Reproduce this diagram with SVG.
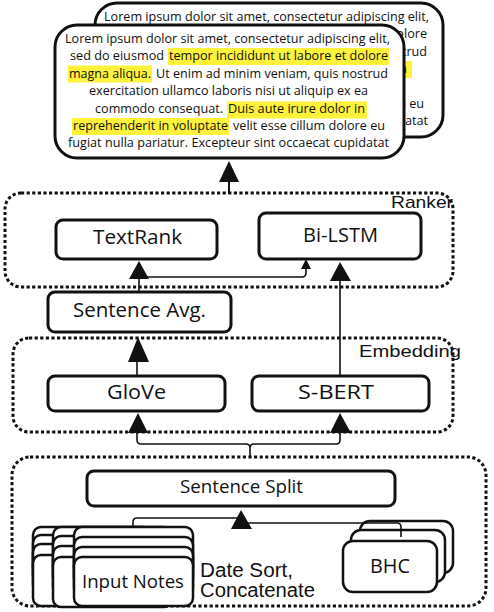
<svg xmlns="http://www.w3.org/2000/svg" width="494" height="612" viewBox="0 0 494 612">
<defs>
<style>
.doc{fill:#fff;stroke:#111;stroke-width:3}
.hl{fill:#fff23a}
.lt{font-family:"Open Sans","DejaVu Sans",sans-serif;font-size:13px;fill:#111}
.grp{fill:none;stroke:#111;stroke-width:3;stroke-dasharray:3.2 2.4}
.glab{font-family:"Liberation Sans",Arial,sans-serif;font-size:17px;fill:#111}
.node{fill:#fff;stroke:#111;stroke-width:3}
.nl{font-family:"Open Sans","DejaVu Sans",sans-serif;font-size:20px;fill:#111;text-anchor:start}
.card{fill:#fff;stroke:#111;stroke-width:2.5}
.ln{fill:none;stroke:#111;stroke-width:1.6}
.ah{fill:#111}
</style>
<g id="lorem">
<text class="lt" x="65" y="43" textLength="325" lengthAdjust="spacingAndGlyphs">Lorem ipsum dolor sit amet, consectetur adipiscing elit,</text>
<text class="lt" x="70" y="60.4" textLength="94" lengthAdjust="spacingAndGlyphs">sed do eiusmod</text>
<text class="lt" x="169" y="60.4" textLength="219" lengthAdjust="spacingAndGlyphs">tempor incididunt ut labore et dolore</text>
<text class="lt" x="69" y="77.8" textLength="82" lengthAdjust="spacingAndGlyphs">magna aliqua.</text>
<text class="lt" x="156" y="77.8" textLength="232" lengthAdjust="spacingAndGlyphs">Ut enim ad minim veniam, quis nostrud</text>
<text class="lt" x="89" y="95.2" textLength="279" lengthAdjust="spacingAndGlyphs">exercitation ullamco laboris nisi ut aliquip ex ea</text>
<text class="lt" x="95" y="112.6" textLength="128" lengthAdjust="spacingAndGlyphs">commodo consequat.</text>
<text class="lt" x="228" y="112.6" textLength="137" lengthAdjust="spacingAndGlyphs">Duis aute irure dolor in</text>
<text class="lt" x="73" y="130" textLength="155" lengthAdjust="spacingAndGlyphs">reprehenderit in voluptate</text>
<text class="lt" x="233" y="130" textLength="152" lengthAdjust="spacingAndGlyphs">velit esse cillum dolore eu</text>
<text class="lt" x="68" y="147.4" textLength="321" lengthAdjust="spacingAndGlyphs">fugiat nulla pariatur. Excepteur sint occaecat cupidatat</text>
</g>
</defs>

<g id="summary-back">
<rect class="doc" x="95" y="3" width="348" height="134" rx="22"/>
<rect class="hl" x="370" y="61" width="42" height="17"/>
<use href="#lorem" transform="translate(39,-22)"/>
</g>

<g id="summary-front">
<rect class="doc" x="55" y="25" width="349" height="133" rx="22"/>
<rect class="hl" x="168" y="48" width="221" height="17"/>
<rect class="hl" x="68" y="65.5" width="84" height="17"/>
<rect class="hl" x="227" y="101.5" width="140" height="17"/>
<rect class="hl" x="72" y="118" width="157" height="17"/>
<use href="#lorem"/>
</g>

<g id="ranker">
<rect class="grp" x="5" y="193" width="448" height="94" rx="16"/>
<text class="glab" x="391" y="208" textLength="62" lengthAdjust="spacingAndGlyphs">Ranker</text>
</g>

<g id="embedding">
<rect class="grp" x="13" y="338" width="440" height="94" rx="16"/>
<text class="glab" x="359" y="357" textLength="102" lengthAdjust="spacingAndGlyphs">Embedding</text>
</g>

<g id="preprocess">
<rect class="grp" x="12" y="457" width="474" height="149" rx="18"/>
</g>

<g id="textrank">
<rect class="node" x="56" y="220" width="161" height="39" rx="7"/>
<text class="nl" x="93" y="244" textLength="89" lengthAdjust="spacingAndGlyphs">TextRank</text>
</g>

<g id="bilstm">
<rect class="node" x="259" y="213" width="162" height="46" rx="7"/>
<text class="nl" x="303" y="242" textLength="75" lengthAdjust="spacingAndGlyphs">Bi-LSTM</text>
</g>

<g id="sentence-avg">
<rect class="node" x="48" y="292" width="183" height="40" rx="7"/>
<text class="nl" x="73" y="317" textLength="133" lengthAdjust="spacingAndGlyphs">Sentence Avg.</text>
</g>

<g id="glove">
<rect class="node" x="48" y="376" width="177" height="35" rx="7"/>
<text class="nl" x="107" y="399" textLength="59" lengthAdjust="spacingAndGlyphs">GloVe</text>
</g>

<g id="sbert">
<rect class="node" x="252" y="376" width="177" height="35" rx="7"/>
<text class="nl" x="298" y="399" textLength="76" lengthAdjust="spacingAndGlyphs">S-BERT</text>
</g>

<g id="sentence-split">
<rect class="node" x="87" y="471" width="308" height="35" rx="7"/>
<text class="nl" x="180" y="493" textLength="123" lengthAdjust="spacingAndGlyphs" style="font-size:19px">Sentence Split</text>
</g>

<g id="input-notes">
<rect class="card" x="33" y="527" width="119" height="49" rx="8"/>
<rect class="card" x="33" y="535" width="119" height="49" rx="8"/>
<rect class="card" x="33" y="544" width="119" height="49" rx="8"/>
<rect class="card" x="33" y="555" width="119" height="51" rx="8"/>
<rect class="card" x="53" y="527" width="119" height="49" rx="8"/>
<rect class="card" x="53" y="536" width="119" height="49" rx="8"/>
<rect class="card" x="53" y="546" width="119" height="49" rx="8"/>
<rect class="card" x="53" y="557" width="119" height="50" rx="8"/>
<rect class="card" x="74" y="527" width="119" height="49" rx="8"/>
<rect class="card" x="74" y="537" width="119" height="49" rx="8"/>
<rect class="card" x="74" y="547" width="119" height="49" rx="8"/>
<rect class="card" x="74" y="557" width="119" height="49" rx="8"/>
<text class="nl" x="82" y="588" textLength="102" lengthAdjust="spacingAndGlyphs" style="font-size:19px">Input Notes</text>
<text class="glab" x="200" y="577" textLength="93" lengthAdjust="spacingAndGlyphs" style="font-size:20px">Date Sort,</text>
<text class="glab" x="200" y="597" textLength="115" lengthAdjust="spacingAndGlyphs" style="font-size:20px">Concatenate</text>
</g>

<g id="bhc">
<rect class="card" x="360" y="521" width="93" height="52" rx="10"/>
<rect class="card" x="351" y="530" width="94" height="52" rx="10"/>
<rect class="card" x="343" y="541" width="94" height="51" rx="10"/>
<text class="nl" x="370" y="573" textLength="40" lengthAdjust="spacingAndGlyphs">BHC</text>
</g>

<g id="connectors">
<path class="ln" d="M229,194 V180" style="stroke-width:2"/>
<polygon class="ah" points="229,161 219,182 239,182"/>
<path class="ln" d="M139,292 V276"/>
<path class="ln" d="M139,277 H302 Q306,277 306,273 V267"/>
<polygon class="ah" points="139,261 129,279 149,279"/>
<polygon class="ah" points="306,259 301,269 311,269"/>
<path class="ln" d="M340,376 V278"/>
<polygon class="ah" points="340,262 330,281 351,281"/>
<path class="ln" d="M137,376 V360"/>
<polygon class="ah" points="138,337 128,362 149,362"/>
<path class="ln" d="M137,432 V440 Q137,444 141,444 H246 Q250,444 250,448 V457 M340,432 V440 Q340,444 336,444 H254 Q250,444 250,448"/>
<polygon class="ah" points="138,413 128,433 148,433"/>
<polygon class="ah" points="340,413 330,433 351,433"/>
<path class="ln" d="M241,518 H137 Q133,518 133,522 V527"/>
<path class="ln" d="M241,523 H397 Q401,523 401,527 V537"/>
<polygon class="ah" points="241,510 231,529 252,529"/>
</g>
</svg>
